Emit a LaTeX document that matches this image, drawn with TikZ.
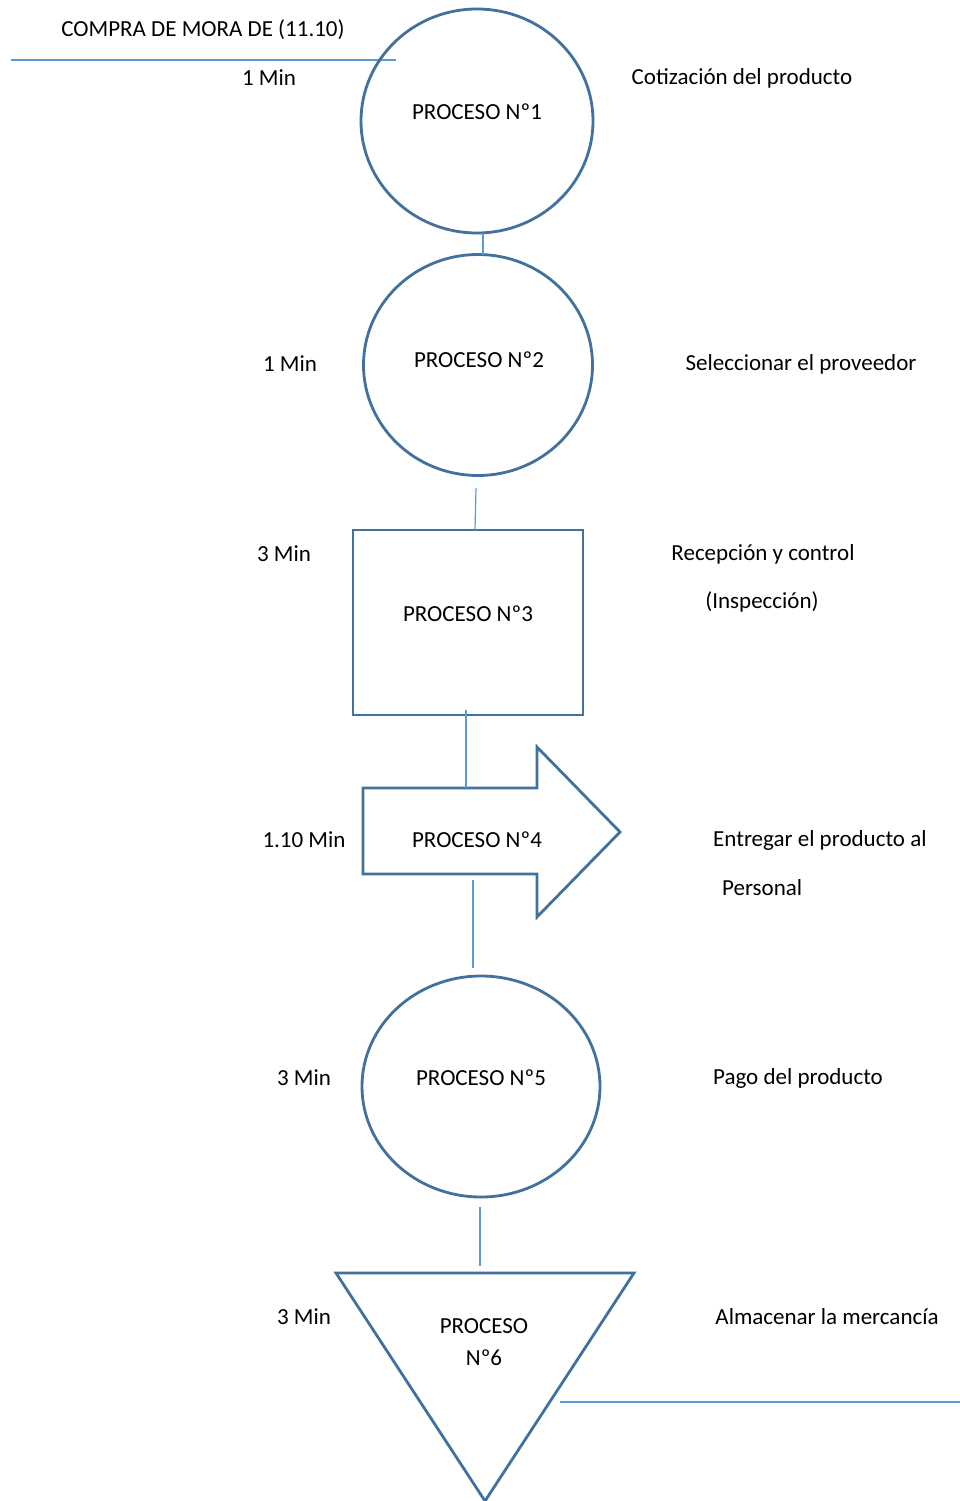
\documentclass[tikz,border=0pt]{standalone}
\usepackage{fontspec}
\setmainfont{Carlito}
\usetikzlibrary{shapes.geometric}
\definecolor{shapeblue}{HTML}{41719C}
\definecolor{lineblue}{HTML}{5B9BD5}
\begin{document}
\begin{tikzpicture}[x=1pt,y=-1pt,
  shp/.style={draw=shapeblue,line width=2.8pt,line join=miter},
  conn/.style={draw=lineblue,line width=1.2pt},
  txt/.style={font=\fontsize{23}{27}\selectfont,inner sep=0pt,anchor=center},
  oval/.style={shp,ellipse,inner sep=0pt}]
\useasboundingbox (0,0) rectangle (960,1501);
\fill[white] (0,0) rectangle (960,1501);

% title and top line
\node[txt] (title) at (203,30) {COMPRA DE MORA DE (11.10)};
\coordinate (tl1) at (11,60);
\coordinate (tl2) at (396,60);
\draw[conn] (tl1) -- (tl2);

% process 1
\node[oval,minimum width=232pt,minimum height=224pt] (p1) at (477,121) {};
\node[txt] (p1t) at (477,112) {PROCESO Nº1};
\node[txt] (m1) at (269,78) {1 Min};
\node[txt] (d1) at (742,78) {Cotización del producto};

% process 2
\node[oval,minimum width=229pt,minimum height=221pt] (p2) at (478,365) {};
\node[txt] (p2t) at (479,360) {PROCESO Nº2};
\node[txt] (m2) at (290,364) {1 Min};
\node[txt] (d2) at (801,364) {Seleccionar el proveedor};

% process 3
\node[shp,rectangle,minimum width=230pt,minimum height=185pt,inner sep=0pt] (p3) at (468,622.5) {};
\node[txt] (p3t) at (468,614) {PROCESO Nº3};
\node[txt] (m3) at (284,554) {3 Min};
\node[txt] (d3a) at (763,554) {Recepción y control};
\node[txt] (d3b) at (762,602) {(Inspección)};

% process 4 (block arrow)
\coordinate (a1) at (363,788);
\coordinate (a2) at (537,788);
\coordinate (a3) at (537,747);
\coordinate (a4) at (620,832);
\coordinate (a5) at (537,917);
\coordinate (a6) at (537,874);
\coordinate (a7) at (363,874);
\draw[shp] (a1) -- (a2) -- (a3) -- (a4) -- (a5) -- (a6) -- (a7) -- cycle;
\node[txt] (p4t) at (477,840) {PROCESO Nº4};
\node[txt] (m4) at (304,840) {1.10 Min};
\node[txt,anchor=west] (d4a) at (713,840) {Entregar el producto al};
\node[txt,anchor=west] (d4b) at (722,888) {Personal};

% process 5
\node[oval,minimum width=238pt,minimum height=221pt] (p5) at (481,1086.5) {};
\node[txt] (p5t) at (481,1078) {PROCESO Nº5};
\node[txt] (m5) at (304,1078) {3 Min};
\node[txt] (d5) at (798,1078) {Pago del producto};

% process 6 (triangle)
\coordinate (t1) at (336,1273);
\coordinate (t2) at (634,1273);
\coordinate (t3) at (485,1501);
\draw[shp] (t1) -- (t2) -- (t3) -- cycle;
\node[txt,align=center] (p6t) at (484,1342) {PROCESO\\[5pt]Nº6};
\node[txt] (m6) at (304,1317) {3 Min};
\node[txt] (d6) at (827,1317) {Almacenar la mercancía};
\coordinate (bl1) at (560,1402);
\coordinate (bl2) at (960,1402);
\draw[conn] (bl1) -- (bl2);

% connectors
\coordinate (c1a) at (483,233);
\coordinate (c1b) at (483,255);
\draw[conn] (c1a) -- (c1b);
\coordinate (c2a) at (476,488);
\coordinate (c2b) at (475,530);
\draw[conn] (c2a) -- (c2b);
\coordinate (c3a) at (466,710);
\coordinate (c3b) at (466,788);
\draw[conn] (c3a) -- (c3b);
\coordinate (c4a) at (473,880);
\coordinate (c4b) at (473,968);
\draw[conn] (c4a) -- (c4b);
\coordinate (c5a) at (480,1207);
\coordinate (c5b) at (480,1266);
\draw[conn] (c5a) -- (c5b);
\end{tikzpicture}
\end{document}
